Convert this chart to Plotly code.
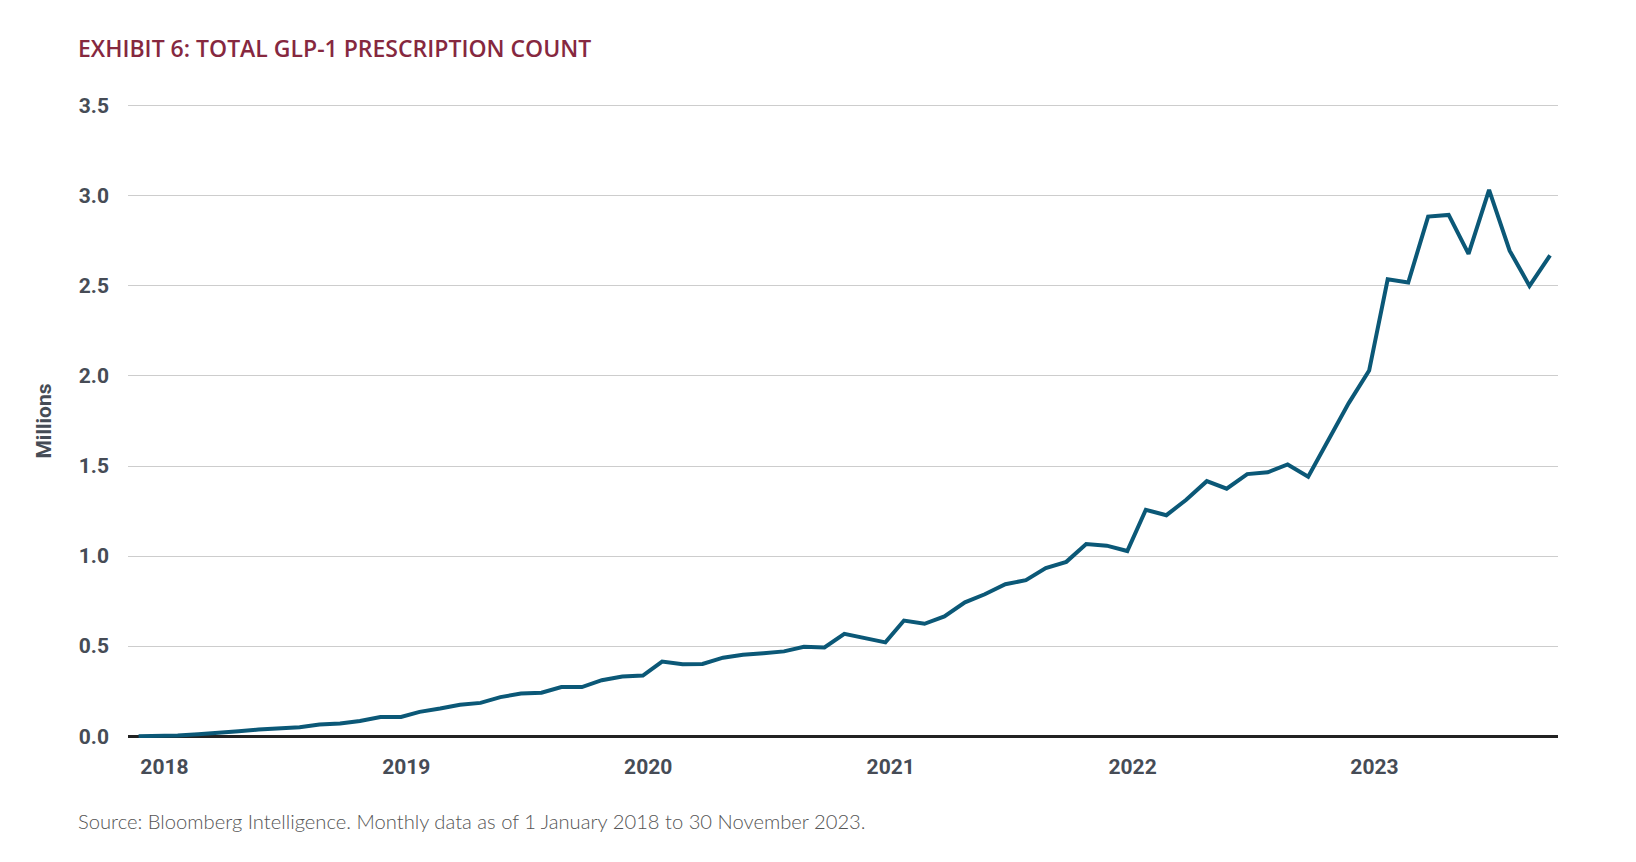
import plotly.graph_objects as go
import pandas as pd

# ---- data ----
months = pd.date_range("2018-01-01", "2023-11-01", freq="MS")
prescriptions_millions = [
    0.000, 0.000, 0.004, 0.011, 0.017, 0.028, 0.037, 0.046, 0.050, 0.065, 0.071, 0.084,   # 2018
    0.106, 0.107, 0.135, 0.154, 0.175, 0.185, 0.217, 0.237, 0.241, 0.273, 0.273, 0.311,   # 2019
    0.331, 0.337, 0.414, 0.400, 0.401, 0.436, 0.452, 0.461, 0.471, 0.497, 0.493, 0.568,   # 2020
    0.544, 0.521, 0.642, 0.624, 0.665, 0.743, 0.788, 0.844, 0.866, 0.933, 0.968, 1.067,   # 2021
    1.058, 1.028, 1.257, 1.227, 1.313, 1.416, 1.374, 1.455, 1.465, 1.509, 1.441, 1.644,   # 2022
    1.848, 2.030, 2.537, 2.519, 2.885, 2.894, 2.678, 3.033, 2.696, 2.500, 2.670,          # 2023
]
year_labels = ["2018", "2019", "2020", "2021", "2022", "2023"]
year_label_dates = ["2018-02-09", "2019-02-09", "2020-02-09", "2021-02-09", "2022-02-09", "2023-02-09"]
y_ticks = [0.0, 0.5, 1.0, 1.5, 2.0, 2.5, 3.0, 3.5]

title_text = "EXHIBIT 6: TOTAL GLP-1 PRESCRIPTION COUNT"
source_text = "Source: Bloomberg Intelligence. Monthly data as of 1 January 2018 to 30 November 2023."

W, H = 1636, 862
L, R, T, B = 128, 78, 104, 124

fig = go.Figure()
fig.add_trace(go.Scatter(
    x=months, y=prescriptions_millions, mode="lines",
    line=dict(color="#0b5877", width=4),
    hoverinfo="x+y", showlegend=False,
))

axis_font = dict(family="Roboto", size=21, color="#464c56", weight=700)

fig.update_layout(
    width=W, height=H,
    margin=dict(l=L, r=R, t=T, b=B, pad=0),
    paper_bgcolor="white", plot_bgcolor="white",
    title=dict(
        text=title_text, xref="container", yref="container",
        x=78 / W, xanchor="left", y=1 - 49 / H, yanchor="middle",
        font=dict(family="Open Sans", size=23, color="#86283f", weight=600),
    ),
    xaxis=dict(
        type="date",
        range=["2017-12-16", "2023-11-13"],
        tickmode="array", tickvals=year_label_dates, ticktext=year_labels,
        showgrid=False, zeroline=False, showline=False, ticks="",
        tickfont=axis_font, ticklabelstandoff=14,
    ),
    yaxis=dict(
        range=[-0.01, 3.51],
        tickmode="array", tickvals=y_ticks, tickformat=".1f",
        showgrid=True, gridcolor="#cdcdcd", gridwidth=1,
        zeroline=True, zerolinecolor="#222222", zerolinewidth=3,
        showline=False, ticks="",
        tickfont=axis_font, ticklabelstandoff=18,
        title=dict(text="Millions", font=axis_font, standoff=21),
    ),
    annotations=[dict(
        text=source_text, xref="paper", yref="paper",
        x=(76 - L) / (W - L - R), xanchor="left",
        y=(H - B - 821) / (H - T - B), yanchor="middle",
        showarrow=False,
        font=dict(family="Lato", size=20.2, color="#555555", weight=300),
    )],
)

fig.write_html(
    "out.html",
    config={"displayModeBar": False},
    post_script="document.body.style.margin='0';document.body.style.overflow='hidden';",
)
